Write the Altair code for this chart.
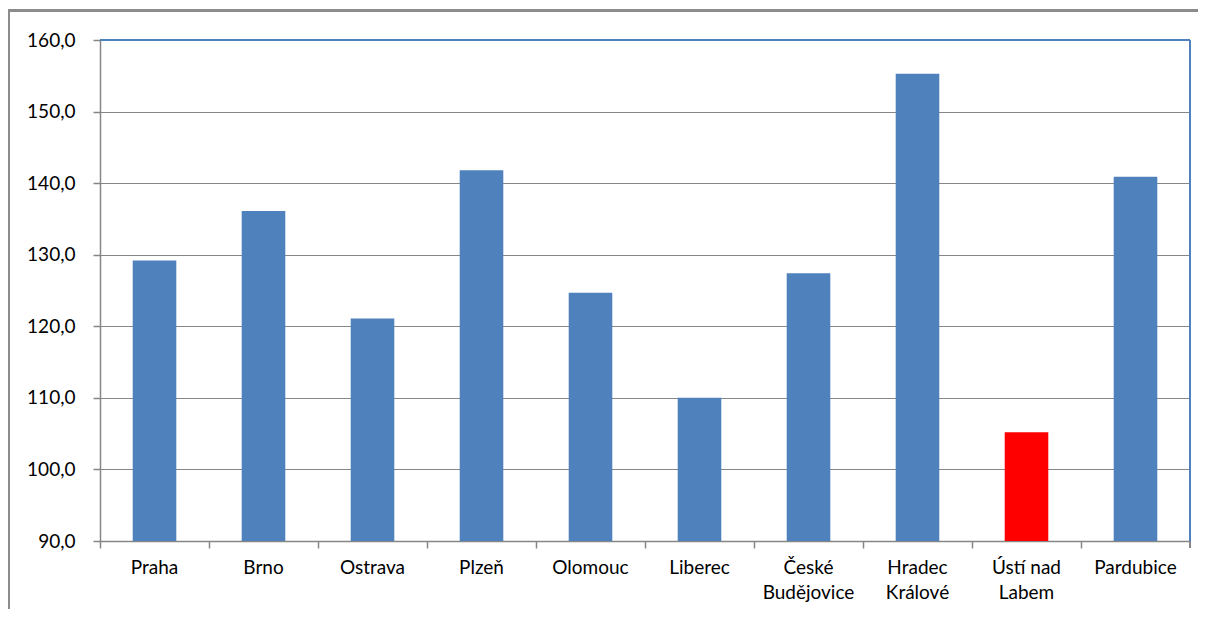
import altair as alt
import pandas as pd

cities = ["Praha", "Brno", "Ostrava", "Plzeň", "Olomouc", "Liberec",
          "České|Budějovice", "Hradec|Králové", "Ústí nad|Labem", "Pardubice"]
values = [129.2, 136.1, 121.1, 141.8, 124.7, 110.0, 127.4, 155.3, 105.2, 140.9]
colors = ["#4F81BD"] * 8 + ["#FF0000", "#4F81BD"]

df = pd.DataFrame({"city": cities, "value": values, "color": colors})

FONT = "Lato"

bars = alt.Chart(df).mark_bar(width=alt.RelativeBandSize(0.4), clip=True).encode(
    x=alt.X("city:N", sort=cities, title=None,
            scale=alt.Scale(paddingInner=0, paddingOuter=0),
            axis=alt.Axis(labelAngle=0, bandPosition=0, labelExpr="split(datum.label, '|')",
                          labelFont=FONT, labelFontSize=19, labelColor="#000000",
                          labelLineHeight=25, labelPadding=10, labelBaseline="top",
                          domainColor="#868686", domainWidth=1.5,
                          tickColor="#868686", tickWidth=1.5, tickSize=7,
                          grid=False)),
    y=alt.Y("value:Q", title=None,
            scale=alt.Scale(domain=[90, 160], nice=False, zero=False),
            axis=alt.Axis(values=[90, 100, 110, 120, 130, 140, 150, 160],
                          labelExpr="replace(format(datum.value, '.1f'), '.', ',')",
                          labelFont=FONT, labelFontSize=19, labelColor="#000000",
                          labelPadding=18,
                          domainColor="#868686", domainWidth=1.5,
                          tickColor="#868686", tickWidth=1.5, tickSize=7,
                          grid=True, gridColor="#868686", gridWidth=1.2)),
    color=alt.Color("color:N", scale=None, legend=None),
)

end_tick = alt.Chart(df).mark_rule(color="#868686", strokeWidth=1.5).encode(
    x=alt.value(1090), y=alt.value(501), y2=alt.value(508)
)

top_border = alt.Chart(df).mark_rule(color="#4F81BD", strokeWidth=2).encode(
    x=alt.value(0), x2=alt.value(1090), y=alt.value(0)
)
right_border = alt.Chart(df).mark_rule(color="#4F81BD", strokeWidth=2).encode(
    x=alt.value(1090), y=alt.value(0), y2=alt.value(501)
)

frame = alt.Chart(df).mark_rect(fill=None, stroke="#8C8C8C", strokeWidth=2).encode(
    x=alt.value(-91), x2=alt.value(1140), y=alt.value(-29.5), y2=alt.value(640)
)

chart = alt.layer(frame, bars, top_border, right_border, end_tick).properties(
    width=1090, height=501,
    autosize=alt.AutoSizeParams(type="none"),
    padding={"left": 92, "top": 32, "right": 8, "bottom": 68},
).configure_view(strokeWidth=0).configure(background="white")

chart.save("out.html", embed_options={"renderer": "svg", "actions": False})
